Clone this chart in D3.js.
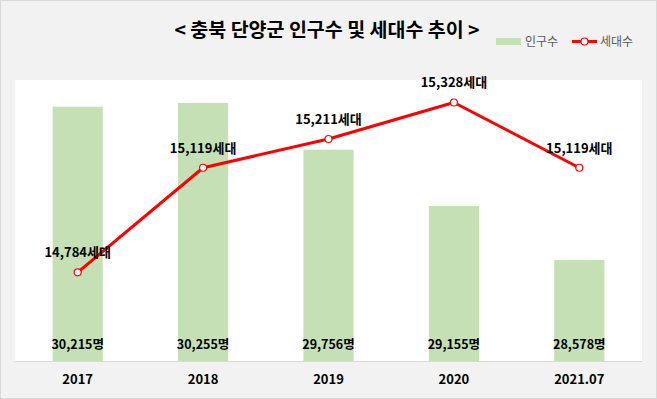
<!DOCTYPE html>
<html>
<head>
<meta charset="utf-8">
<script src="https://cdn.jsdelivr.net/npm/d3@7"></script>
<style>
  body { margin: 0; background: #fff; }
  text { font-family: "Noto Sans CJK KR", "Noto Sans", sans-serif; }
</style>
</head>
<body>
<div id="chart-area"></div>
<script>
var years = ["2017", "2018", "2019", "2020", "2021.07"];
var population = [30215, 30255, 29756, 29155, 28578];
var households = [14784, 15119, 15211, 15328, 15119];

var width = 657, height = 399;
var plot = {left: 15, right: 642, top: 80, bottom: 361};

var svg = d3.select("#chart-area")
  .append("svg")
  .attr("width", width)
  .attr("height", height);

// background + frame
svg.append("rect")
  .attr("x", 0.5).attr("y", 0.5)
  .attr("width", width - 1).attr("height", height - 1)
  .attr("fill", "#f2f2f2")
  .attr("stroke", "#d9d9d9");

svg.append("rect")
  .attr("x", plot.left).attr("y", plot.top)
  .attr("width", plot.right - plot.left)
  .attr("height", plot.bottom - plot.top)
  .attr("fill", "#fff");

var x = d3.scaleBand()
  .domain(years)
  .range([plot.left, plot.right])
  .paddingInner(0.6)
  .paddingOuter(0.3);

var y = d3.scaleLinear().domain([27500, 30500]).range([plot.bottom, plot.top]);
var y2 = d3.scaleLinear().domain([14500, 15400]).range([plot.bottom, plot.top]);

var fmt = d3.format(",");

// bars
svg.selectAll(".bar")
  .data(population)
  .enter().append("rect")
  .attr("class", "bar")
  .attr("x", function(d, i) { return x(years[i]); })
  .attr("y", function(d) { return y(d); })
  .attr("width", x.bandwidth())
  .attr("height", function(d) { return plot.bottom - y(d); })
  .attr("fill", "#c5e0b4");

// baseline
svg.append("line")
  .attr("x1", plot.left).attr("x2", plot.right)
  .attr("y1", plot.bottom + 0.5).attr("y2", plot.bottom + 0.5)
  .attr("stroke", "#d9d9d9");

// x axis labels
var xAxis = d3.axisBottom(x).tickSize(0).tickPadding(14);
var gx = svg.append("g")
  .attr("transform", "translate(0," + plot.bottom + ")")
  .call(xAxis);
gx.select(".domain").remove();
gx.selectAll("text")
  .attr("font-family", "\"Noto Sans CJK KR\", sans-serif")
  .attr("font-size", "13px")
  .attr("font-weight", "bold")
  .attr("fill", "#000");

// bar labels
svg.selectAll(".pop-label")
  .data(population)
  .enter().append("text")
  .attr("class", "pop-label")
  .attr("x", function(d, i) { return x(years[i]) + x.bandwidth() / 2; })
  .attr("y", 349)
  .attr("text-anchor", "middle")
  .attr("font-size", "12.5px")
  .attr("font-weight", "bold")
  .attr("fill", "#000")
  .text(function(d) { return fmt(d) + "명"; });

// line
var cx = function(d, i) { return x(years[i]) + x.bandwidth() / 2; };
var line = d3.line()
  .x(cx)
  .y(function(d) { return y2(d); });

svg.append("path")
  .datum(households)
  .attr("d", line)
  .attr("fill", "none")
  .attr("stroke", "#ff0000")
  .attr("stroke-width", 3)
  .attr("stroke-linejoin", "round");

svg.selectAll(".pt")
  .data(households)
  .enter().append("circle")
  .attr("class", "pt")
  .attr("cx", cx)
  .attr("cy", function(d) { return y2(d); })
  .attr("r", 3.5)
  .attr("fill", "#fff")
  .attr("stroke", "#ff0000")
  .attr("stroke-width", 1.2);

svg.selectAll(".hh-label")
  .data(households)
  .enter().append("text")
  .attr("class", "hh-label")
  .attr("x", cx)
  .attr("y", function(d) { return y2(d) - 15; })
  .attr("text-anchor", "middle")
  .attr("font-size", "13px")
  .attr("font-weight", "bold")
  .attr("fill", "#000")
  .text(function(d) { return fmt(d) + "세대"; });

// title
svg.append("text")
  .attr("x", 327)
  .attr("y", 37)
  .attr("text-anchor", "middle")
  .attr("font-size", "19.5px")
  .attr("font-weight", "bold")
  .attr("fill", "#000")
  .text("< 충북 단양군 인구수 및 세대수 추이 >");

// legend
var lg = svg.append("g");
lg.append("rect")
  .attr("x", 496).attr("y", 38)
  .attr("width", 25).attr("height", 7)
  .attr("fill", "#c5e0b4");
lg.append("text")
  .attr("x", 525).attr("y", 46)
  .attr("font-size", "12px")
  .attr("fill", "#595959")
  .text("인구수");
lg.append("line")
  .attr("x1", 572).attr("x2", 597)
  .attr("y1", 41.5).attr("y2", 41.5)
  .attr("stroke", "#ff0000")
  .attr("stroke-width", 3);
lg.append("circle")
  .attr("cx", 584.5).attr("cy", 41.5).attr("r", 3.5)
  .attr("fill", "#fff")
  .attr("stroke", "#ff0000")
  .attr("stroke-width", 1.2);
lg.append("text")
  .attr("x", 600).attr("y", 46)
  .attr("font-size", "12px")
  .attr("fill", "#595959")
  .text("세대수");
</script>
</body>
</html>
